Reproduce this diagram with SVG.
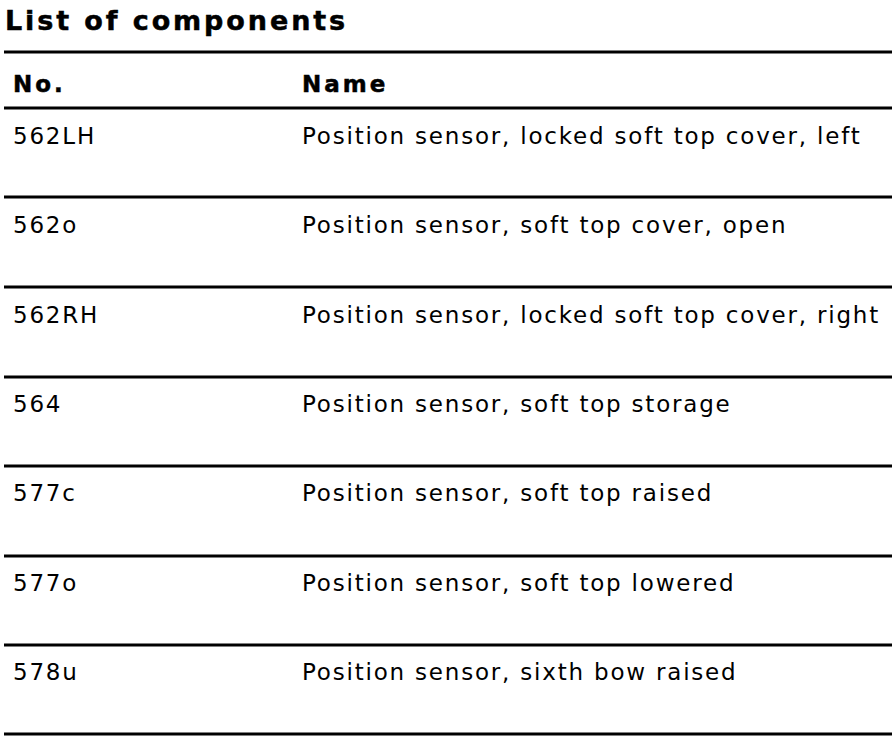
<svg xmlns="http://www.w3.org/2000/svg" width="896" height="744" viewBox="0 0 896 744">
<style>
.t{font-family:"DejaVu Sans",Verdana,sans-serif;fill:#000}
.title{font-size:27px;font-weight:bold;letter-spacing:2.9px;stroke:#000;stroke-width:0.5px}
.h{font-size:23px;font-weight:bold;letter-spacing:3px;stroke:#000;stroke-width:0.5px}
.b{font-size:23px;letter-spacing:1.8px}
.r{stroke:#000;stroke-width:3}
</style>
<rect width="896" height="744" fill="#fff"/>
<text class="t title" x="5" y="30">List of components</text>
<g id="rules">
<line class="r" x1="4" y1="52" x2="892" y2="52"/>
<line class="r" x1="4" y1="108" x2="892" y2="108"/>
<line class="r" x1="4" y1="197" x2="892" y2="197"/>
<line class="r" x1="4" y1="287" x2="892" y2="287"/>
<line class="r" x1="4" y1="377" x2="892" y2="377"/>
<line class="r" x1="4" y1="466" x2="892" y2="466"/>
<line class="r" x1="4" y1="556" x2="892" y2="556"/>
<line class="r" x1="4" y1="645" x2="892" y2="645"/>
<line class="r" x1="4" y1="734" x2="892" y2="734"/>
</g>
<g id="header">
<text class="t h" x="13" y="92">No.</text>
<text class="t h" x="302" y="92">Name</text>
</g>
<g id="row1"><text class="t b" x="13" y="144">562LH</text><text class="t b" x="302" y="144">Position sensor, locked soft top cover, left</text></g>
<g id="row2"><text class="t b" x="13" y="233">562o</text><text class="t b" x="302" y="233">Position sensor, soft top cover, open</text></g>
<g id="row3"><text class="t b" x="13" y="323">562RH</text><text class="t b" x="302" y="323">Position sensor, locked soft top cover, right</text></g>
<g id="row4"><text class="t b" x="13" y="412">564</text><text class="t b" x="302" y="412">Position sensor, soft top storage</text></g>
<g id="row5"><text class="t b" x="13" y="501">577c</text><text class="t b" x="302" y="501">Position sensor, soft top raised</text></g>
<g id="row6"><text class="t b" x="13" y="591">577o</text><text class="t b" x="302" y="591">Position sensor, soft top lowered</text></g>
<g id="row7"><text class="t b" x="13" y="680">578u</text><text class="t b" x="302" y="680">Position sensor, sixth bow raised</text></g>
</svg>
